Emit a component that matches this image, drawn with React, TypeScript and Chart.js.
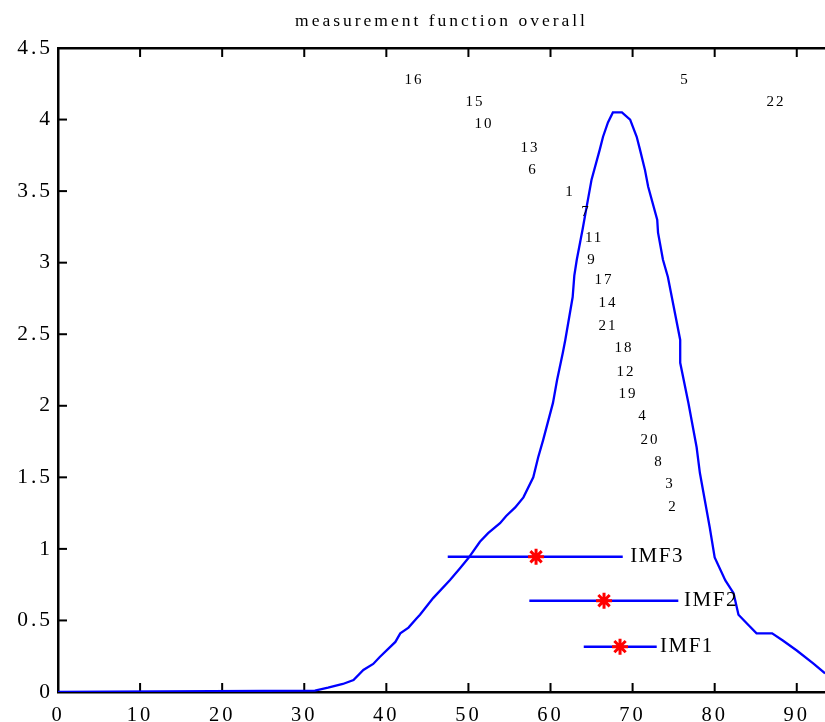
import React, { useEffect, useRef } from 'react';
import { Chart, registerables } from 'chart.js';

Chart.register(...registerables);

// Overall measurement function curve
const curveX = [0, 31.3, 32.9, 34.7, 36.0, 37.2, 38.4, 39.2, 41.1, 41.7, 42.7, 43.7, 44.1, 45.7, 47.76, 49.0, 50.0, 51.4, 52.4, 53.85, 54.6, 55.7, 56.7, 57.9, 58.5, 59.1, 60.3, 60.8, 61.5, 61.8, 62.7, 62.9, 63.2, 63.9, 64.4, 65.0, 66.0, 66.4, 67.0, 67.6, 68.7, 69.7, 70.5, 70.9, 71.5, 71.9, 73.0, 73.1, 73.7, 74.3, 75.8, 75.8, 76.8, 77.8, 78.2, 78.8, 79.4, 80.0, 81.3, 82.3, 82.9, 83.9, 85.1, 87.0, 88.3, 90.0, 92.0, 93.45];
const curveY = [0, 0.01, 0.03, 0.056, 0.084, 0.154, 0.196, 0.245, 0.35, 0.41, 0.45, 0.515, 0.54, 0.656, 0.783, 0.866, 0.936, 1.05, 1.11, 1.18, 1.23, 1.29, 1.36, 1.5, 1.64, 1.76, 2.02, 2.18, 2.37, 2.46, 2.76, 2.91, 3.02, 3.23, 3.39, 3.58, 3.79, 3.88, 3.98, 4.05, 4.05, 4.0, 3.88, 3.79, 3.65, 3.53, 3.3, 3.21, 3.02, 2.9, 2.46, 2.3, 2.02, 1.71, 1.53, 1.34, 1.15, 0.94, 0.78, 0.69, 0.54, 0.48, 0.41, 0.41, 0.36, 0.29, 0.2, 0.13];

// Axis ticks
const xTicks = [0, 10, 20, 30, 40, 50, 60, 70, 80, 90];
const yTicks = [0, 0.5, 1, 1.5, 2, 2.5, 3, 3.5, 4, 4.5];
const xMin = 0;
const xMax = 93.44;
const yMin = 0;
const yMax = 4.5;

// IMF intervals
const imfNames = ['IMF1', 'IMF2', 'IMF3'];
const imfCenter = [68.47, 66.52, 58.24];
const imfLow = [64.05, 57.42, 47.48];
const imfHigh = [72.94, 75.57, 68.8];
const imfLevel = [0.317, 0.638, 0.945];
const imfLabelX = [73.34, 76.27, 69.7];

// Numbered sample labels
const markNames = ['16', '5', '15', '22', '10', '13', '6', '1', '7', '11', '9', '17', '14', '21', '18', '12', '19', '4', '20', '8', '3', '2'];
const markX = [43.25, 76.27, 50.68, 87.35, 51.78, 57.38, 57.75, 62.26, 64.21, 65.19, 64.94, 66.4, 66.89, 66.89, 68.84, 69.08, 69.32, 71.14, 72.0, 73.1, 74.44, 74.8];
const markY = [4.277, 4.277, 4.123, 4.123, 3.969, 3.802, 3.648, 3.494, 3.354, 3.173, 3.019, 2.879, 2.718, 2.558, 2.404, 2.236, 2.082, 1.929, 1.761, 1.607, 1.454, 1.293];

const SERIF = "'Liberation Serif', 'Times New Roman', serif";

const framePlugin = {
  id: 'matlabFrame',
  beforeDraw(chart: any) {
    (chart.ctx as any).letterSpacing = '3px';
  },
  beforeDatasetsDraw(chart: any) {
    const { ctx, chartArea: a, scales } = chart;
    ctx.save();
    ctx.fillStyle = '#000';
    const w = a.right - a.left;
    const h = a.bottom - a.top;
    ctx.fillRect(a.left - 1, a.top - 1, w + 2, 2.5);
    ctx.fillRect(a.left - 1, a.top - 1, 2.5, h + 2);
    ctx.fillRect(a.left - 1, a.bottom - 1, w + 2, 2.5);
    xTicks.forEach((v) => {
      const px = scales.x.getPixelForValue(v);
      ctx.fillRect(px - 1, a.top, 2, 9);
      ctx.fillRect(px - 1, a.bottom - 9, 2, 9);
    });
    yTicks.forEach((v) => {
      const py = scales.y.getPixelForValue(v);
      ctx.fillRect(a.left, py - 1, 9, 2);
    });
    ctx.restore();
  },
  afterDatasetsDraw(chart: any) {
    const { ctx, scales } = chart;
    ctx.save();
    ctx.fillStyle = '#000';
    ctx.textBaseline = 'middle';
    ctx.textAlign = 'center';
    (ctx as any).letterSpacing = '2px';
    ctx.font = `15px ${SERIF}`;
    markNames.forEach((t, i) => {
      ctx.fillText(t, scales.x.getPixelForValue(markX[i]) + 1, scales.y.getPixelForValue(markY[i]));
    });
    ctx.textAlign = 'left';
    (ctx as any).letterSpacing = '1.5px';
    ctx.font = `21px ${SERIF}`;
    imfNames.forEach((t, i) => {
      ctx.fillText(t, scales.x.getPixelForValue(imfLabelX[i]), scales.y.getPixelForValue(imfLevel[i]));
    });
    ctx.restore();
  },
  afterDraw(chart: any) {
    (chart.ctx as any).letterSpacing = '0px';
  },
};

export default function App() {
  const ref = useRef<HTMLCanvasElement>(null);

  useEffect(() => {
    document.body.style.margin = '0';
    document.body.style.overflow = 'hidden';
    const canvas = ref.current;
    if (!canvas) return;

    const datasets: any[] = [];
    datasets.push({
      label: 'stars',
      data: imfCenter.map((x, i) => ({ x, y: imfLevel[i] })),
      showLine: false,
      pointStyle: 'star',
      pointRadius: 8,
      pointBorderWidth: 3,
      pointBorderColor: '#ff0000',
      pointBackgroundColor: '#ff0000',
      order: 0,
    });
    imfNames.forEach((n, i) => {
      datasets.push({
        label: n,
        data: [
          { x: imfLow[i], y: imfLevel[i] },
          { x: imfHigh[i], y: imfLevel[i] },
        ],
        borderColor: '#0000ff',
        borderWidth: 2.5,
        pointRadius: 0,
        order: 1,
      });
    });
    datasets.push({
      label: 'overall',
      data: curveX.map((x, i) => ({ x, y: curveY[i] })),
      borderColor: '#0000ff',
      borderWidth: 2.3,
      pointRadius: 0,
      tension: 0,
      order: 2,
    });

    const chart = new Chart(canvas, {
      type: 'line',
      data: { datasets },
      plugins: [framePlugin],
      options: {
        responsive: false,
        animation: false,
        devicePixelRatio: 1,
        layout: { padding: 0, autoPadding: false },
        plugins: {
          legend: { display: false },
          tooltip: { enabled: false },
          title: {
            display: true,
            text: 'measurement function overall',
            fullSize: false,
            color: '#000',
            font: { family: SERIF, size: 17.5, weight: 'normal' },
            padding: { top: 11, bottom: 16 },
          },
        },
        scales: {
          x: {
            type: 'linear',
            min: xMin,
            max: xMax,
            afterBuildTicks: (s: any) => {
              s.ticks = xTicks.map((v) => ({ value: v }));
            },
            afterFit: (s: any) => {
              s.height = 30;
              s.paddingRight = 0;
              s.paddingLeft = 0;
            },
            grid: { display: false, drawTicks: false },
            border: { display: false },
            ticks: {
              color: '#000',
              font: { family: SERIF, size: 20.5 },
              padding: 11,
              maxRotation: 0,
              autoSkip: false,
              callback: (v: any) => String(v),
            },
          },
          y: {
            type: 'linear',
            min: yMin,
            max: yMax,
            afterBuildTicks: (s: any) => {
              s.ticks = yTicks.map((v) => ({ value: v }));
            },
            afterFit: (s: any) => {
              s.width = 58;
              s.paddingTop = 0;
              s.paddingBottom = 0;
            },
            grid: { display: false, drawTicks: false },
            border: { display: false },
            ticks: {
              color: '#000',
              font: { family: SERIF, size: 21.5 },
              padding: 5,
              autoSkip: false,
              callback: (v: any) => String(v),
            },
          },
        },
      },
    });
    return () => chart.destroy();
  }, []);

  return (
    <div style={{ width: 825, height: 722 }}>
      <canvas ref={ref} width={825} height={722} style={{ display: 'block' }} />
    </div>
  );
}
